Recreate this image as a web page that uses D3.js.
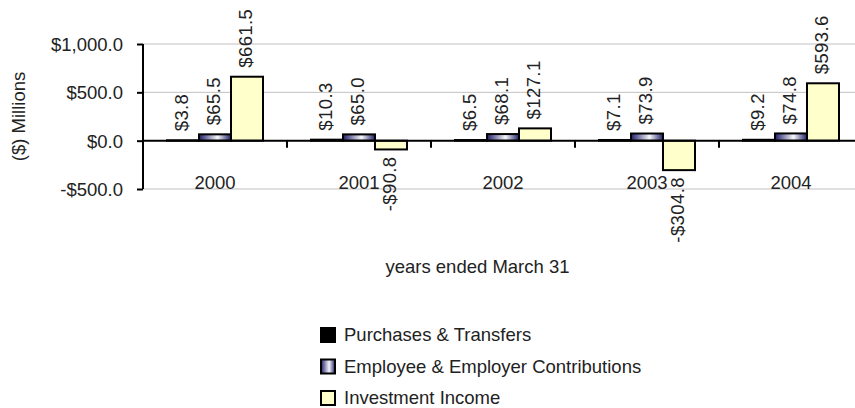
<!DOCTYPE html>
<html>
<head>
<meta charset="utf-8">
<script src="https://cdn.jsdelivr.net/npm/d3@7"></script>
<style>
  body { margin: 0; background: #fff; }
  svg { display: block; }
  text { font-family: "Liberation Sans", Arial, sans-serif; fill: #222; }
</style>
</head>
<body>
<div id="canvas"></div>
<script>
// data
const years = ["2000", "2001", "2002", "2003", "2004"];
const seriesNames = ["Purchases & Transfers", "Employee & Employer Contributions", "Investment Income"];
const purchases = [3.8, 10.3, 6.5, 7.1, 9.2];
const contributions = [65.5, 65.0, 68.1, 73.9, 74.8];
const investment = [661.5, -90.8, 127.1, -304.8, 593.6];
const yTicks = [-500, 0, 500, 1000];

const width = 855;
const height = 408;
const margin = { top: 44, left: 143, bottom: 219, right: -8 };
const iwidth = width - margin.left - margin.right;
const iheight = height - margin.top - margin.bottom;

const svg = d3.select("#canvas").append("svg")
    .attr("width", width)
    .attr("height", height);

const defs = svg.append("defs");
const grad = defs.append("linearGradient").attr("id", "navy")
    .attr("x1", "0%").attr("x2", "100%").attr("y1", "0%").attr("y2", "0%");
grad.append("stop").attr("offset", "0%").attr("stop-color", "#20206c");
grad.append("stop").attr("offset", "58%").attr("stop-color", "#f6f6fb");
grad.append("stop").attr("offset", "100%").attr("stop-color", "#20206c");

const fills = ["#000000", "url(#navy)", "#ffffcc"];
const fs = "18.5px";

const g = svg.append("g").attr("transform", `translate(${margin.left},${margin.top})`);

const y = d3.scaleLinear().domain([-500, 1000]).range([iheight, 0]);
const x0 = d3.scaleBand().domain(years).range([0, iwidth]);
const x1 = d3.scaleBand().domain([0, 1, 2]).range([0, x0.bandwidth()]).paddingOuter(0.75);

// gridlines
g.selectAll(".grid").data(yTicks).enter().append("line")
    .attr("x1", 0).attr("x2", iwidth)
    .attr("y1", d => y(d)).attr("y2", d => y(d))
    .attr("stroke", "#c0c0c0").attr("stroke-width", 1);

// y axis
const yAxis = g.append("g")
    .call(d3.axisLeft(y).tickValues(yTicks).tickSize(6).tickPadding(14)
        .tickFormat(d => (d < 0 ? "-$" : "$") + d3.format(",.1f")(Math.abs(d))));
yAxis.select(".domain").attr("stroke", "#000").attr("stroke-width", 2)
    .attr("d", `M0,${y(1000)}V${y(-500)}`);
yAxis.selectAll(".tick line").attr("stroke", "#000").attr("stroke-width", 2);
yAxis.selectAll(".tick text").style("font-size", fs).attr("fill", "#222")
    .style("font-family", null).attr("dy", "0.35em");

// bars
const rows = years.map((yr, i) => ({ year: yr, vals: [purchases[i], contributions[i], investment[i]] }));
const groups = g.selectAll(".year").data(rows).enter().append("g")
    .attr("transform", d => `translate(${x0(d.year)},0)`);

groups.selectAll("rect").data(d => d.vals).enter().append("rect")
    .attr("x", (d, i) => x1(i))
    .attr("width", x1.bandwidth())
    .attr("y", d => y(Math.max(0, d)))
    .attr("height", d => Math.abs(y(d) - y(0)))
    .attr("fill", (d, i) => fills[i])
    .attr("stroke", "#000").attr("stroke-width", 2);

groups.selectAll(".lbl").data(d => d.vals).enter().append("text")
    .attr("transform", (d, i) => {
        const cx = x1(i) + x1.bandwidth() / 2 - 1;
        const cy = d >= 0 ? y(d) - 9 : y(d) + 7;
        return `translate(${cx},${cy}) rotate(-90)`;
    })
    .attr("dy", "0.35em")
    .attr("text-anchor", d => d >= 0 ? "start" : "end")
    .style("font-size", fs)
    .style("letter-spacing", "0.4px")
    .text(d => (d < 0 ? "-$" : "$") + d3.format(".1f")(Math.abs(d)));

// x axis at zero
const xAxis = g.append("g").attr("transform", `translate(0,${y(0)})`)
    .call(d3.axisBottom(x0).tickSize(0).tickPadding(0));
xAxis.select(".domain").attr("stroke", "#000").attr("stroke-width", 2)
    .attr("d", `M0,0H${iwidth}`);
xAxis.selectAll(".tick text").attr("y", 48).attr("dy", 0)
    .style("font-family", null)
    .style("font-size", fs).attr("fill", "#222");
g.selectAll(".xtick").data(years.slice(1)).enter().append("line")
    .attr("x1", d => x0(d)).attr("x2", d => x0(d))
    .attr("y1", y(0)).attr("y2", y(0) + 7)
    .attr("stroke", "#000").attr("stroke-width", 2);

// axis titles
svg.append("text")
    .attr("transform", `translate(19,${margin.top + iheight / 2}) rotate(-90)`)
    .attr("text-anchor", "middle")
    .attr("dy", "0.35em")
    .style("font-size", fs)
    .text("($) Millions");

svg.append("text")
    .attr("x", 477.5).attr("y", 273)
    .attr("text-anchor", "middle")
    .style("font-size", fs)
    .text("years ended March 31");

// legend
const legend = svg.append("g").attr("transform", "translate(321,335)");
seriesNames.forEach((name, i) => {
    const row = legend.append("g").attr("transform", `translate(0,${i * 31.5})`);
    row.append("rect")
        .attr("x", 0).attr("y", -7).attr("width", 14).attr("height", 14)
        .attr("fill", fills[i]).attr("stroke", "#000").attr("stroke-width", 2);
    row.append("text")
        .attr("x", 23).attr("dy", "0.35em")
        .style("font-size", fs)
        .text(name);
});
</script>
</body>
</html>
